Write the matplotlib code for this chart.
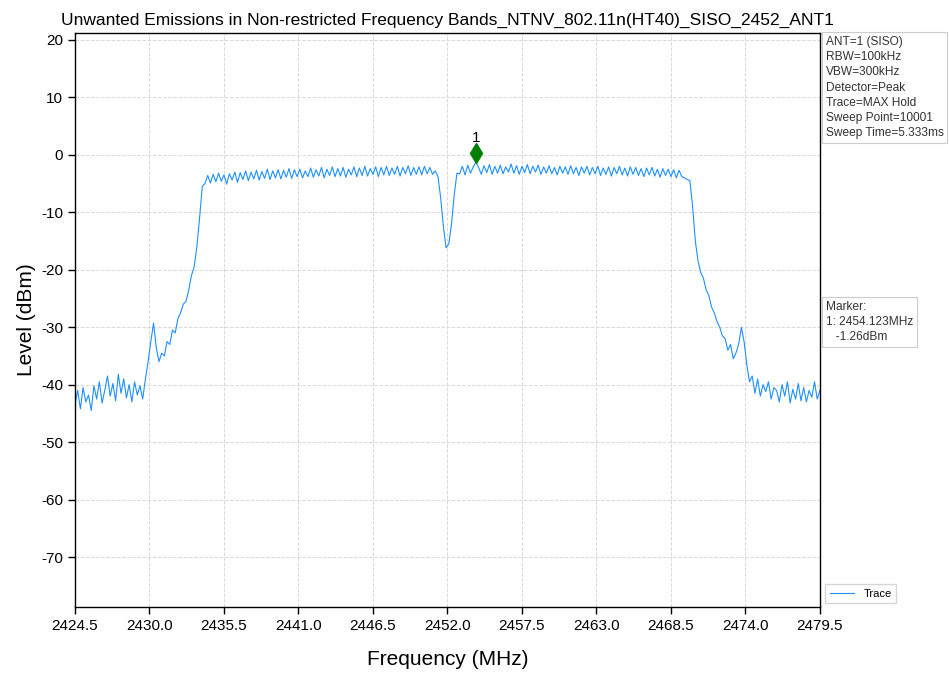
import numpy as np
import matplotlib
matplotlib.use("Agg")
import matplotlib.pyplot as plt

plt.rcParams['font.family'] = ['Liberation Sans', 'DejaVu Sans']
plt.rcParams['axes.unicode_minus'] = False

# sweep limits (MHz) and trace levels (dBm)
f_start = 2424.5
f_stop = 2479.5
levels = [
    # lower out-of-band floor
    -43.5, -41.0, -44.2, -40.5, -43.0, -41.8, -44.5, -40.2, -42.5, -39.5,
    -43.2, -41.0, -38.5, -42.0, -39.8, -42.8, -38.2, -41.5, -39.0, -42.3,
    -40.0, -43.0, -39.5, -41.8, -40.2, -42.5, -39.0,
    # lower skirt
    -36.0, -32.5, -29.3, -33.5, -36.0, -34.5, -35.0, -32.5, -33.0, -30.5,
    -31.0, -28.5, -27.5, -26.0, -25.5, -23.5, -21.0, -19.5, -16.0, -11.0,
    -5.5,
    # left half of channel
    -5.0, -3.6, -4.9, -3.4, -4.7, -3.2, -4.6, -3.5, -5.1, -3.3,
    -4.4, -3.0, -4.8, -3.1, -4.3, -2.8, -4.5, -3.0, -4.2, -2.7,
    -4.4, -2.9, -4.1, -2.5, -4.3, -2.8, -4.0, -2.6, -4.2, -2.7,
    -3.9, -2.4, -4.1, -2.6, -3.8, -2.5, -4.0, -2.8, -3.8, -2.3,
    -3.9, -2.6, -3.7, -2.2, -4.0, -2.5, -3.6, -2.1, -3.8, -2.4,
    -3.7, -2.2, -3.9, -2.5, -3.5, -2.1, -3.8, -2.3, -3.6, -2.0,
    -3.7, -2.4, -3.4, -2.1, -3.8, -2.2, -3.5, -2.0, -3.6, -2.3,
    -3.4, -2.0, -3.7, -2.2, -3.3, -1.9, -3.6, -2.2, -3.4, -2.1,
    -3.5, -2.0, -3.3, -2.2, -3.4, -2.8,
    # centre notch
    -3.8, -7.5, -12.5, -16.2, -15.5, -12.0, -7.0, -3.2,
    # right half of channel
    -3.3, -2.0, -3.5, -1.8, -3.2, -2.1, -1.3, -2.2, -3.4, -1.9,
    -3.1, -1.7, -3.4, -2.0, -3.2, -1.8, -3.3, -2.1, -3.0, -1.6,
    -3.2, -1.9, -3.4, -2.0, -3.1, -1.7, -3.3, -2.0, -3.0, -1.8,
    -3.4, -2.1, -3.2, -1.9, -3.3, -2.2, -3.5, -2.0, -3.2, -2.1,
    -3.4, -1.9, -3.3, -2.2, -3.6, -2.1, -3.2, -2.0, -3.5, -2.2,
    -3.3, -2.0, -3.6, -2.3, -3.4, -2.1, -3.7, -2.2, -3.3, -2.0,
    -3.5, -2.3, -3.7, -2.1, -3.4, -2.2, -3.6, -2.4, -3.8, -2.3,
    -3.5, -2.2, -3.7, -2.5, -3.9, -2.4, -3.6, -2.5, -3.8, -2.6,
    -4.0, -2.7, -3.8, -4.0, -4.3,
    # upper skirt
    -4.5, -9.0, -15.0, -18.5, -20.5, -21.5, -23.5, -24.5, -26.5, -27.5,
    -29.0, -30.0, -31.5, -32.0, -34.0, -33.0, -35.5, -34.5, -33.0, -30.0,
    -32.5, -36.5, -39.5,
    # upper out-of-band floor
    -38.5, -41.5, -39.0, -42.0, -40.0, -41.2, -39.5, -42.5, -40.5, -41.0,
    -43.0, -40.0, -42.0, -39.5, -43.2, -40.8, -42.5, -39.8, -42.8, -40.5,
    -43.0, -41.0, -42.2, -39.5, -42.5, -41.0,
]
freqs = np.linspace(f_start, f_stop, len(levels))

marker_freq = 2454.123
marker_level = -1.26

x_ticks = [2424.5, 2430.0, 2435.5, 2441.0, 2446.5, 2452.0, 2457.5,
           2463.0, 2468.5, 2474.0, 2479.5]
y_ticks = [-70, -60, -50, -40, -30, -20, -10, 0, 10, 20]

settings = ["ANT=1 (SISO)", "RBW=100kHz", "VBW=300kHz", "Detector=Peak",
            "Trace=MAX Hold", "Sweep Point=10001", "Sweep Time=5.333ms"]

fig = plt.figure(figsize=(9.49, 6.73), dpi=100)
ax = fig.add_axes([0.079, 0.098, 0.785, 0.853])

ax.plot(freqs, levels, color='#1e90ff', linewidth=0.8, label='Trace')
# diamond sits just above the peak it marks
ax.plot(marker_freq, marker_level + 1.5, marker='d', color='green',
        markersize=10, linestyle='none')
ax.text(marker_freq, marker_level + 3.0, '1', ha='center', va='bottom',
        fontsize=11)

ax.set_xlim(f_start, f_stop)
ax.set_ylim(-78.7, 21.2)
ax.set_xticks(x_ticks)
ax.set_xticklabels([f'{t:.1f}' for t in x_ticks])
ax.set_yticks(y_ticks)
ax.tick_params(labelsize=11, length=5, width=1)
ax.grid(True, color='#d8d8d8', linestyle='--', linewidth=0.7)
for s in ax.spines.values():
    s.set_linewidth(1.0)

ax.set_title('Unwanted Emissions in Non-restricted Frequency Bands_NTNV_802.11n(HT40)_SISO_2452_ANT1',
             fontsize=12.5, pad=6)
ax.set_xlabel('Frequency (MHz)', fontsize=15, labelpad=12)
ax.set_ylabel('Level (dBm)', fontsize=15, labelpad=4)

box = dict(boxstyle='square,pad=0.3', facecolor='white', edgecolor='#cccccc',
           linewidth=0.8)
fig.text(826 / 949, 1 - 36 / 673, "\n".join(settings), fontsize=8.6,
         va='top', ha='left', bbox=box, linespacing=1.36, color='#333333')
fig.text(826 / 949, 1 - 301 / 673,
         f"Marker:\n1: {marker_freq:.3f}MHz\n   {marker_level:.2f}dBm",
         fontsize=8.6, va='top', ha='left', bbox=box, linespacing=1.36,
         color='#333333')

ax.legend(loc='lower left', bbox_to_anchor=(1.0, -0.003), fontsize=8,
          frameon=True, fancybox=False, edgecolor='#cccccc', handlelength=2.2)

fig.savefig('out.png', dpi=100)
